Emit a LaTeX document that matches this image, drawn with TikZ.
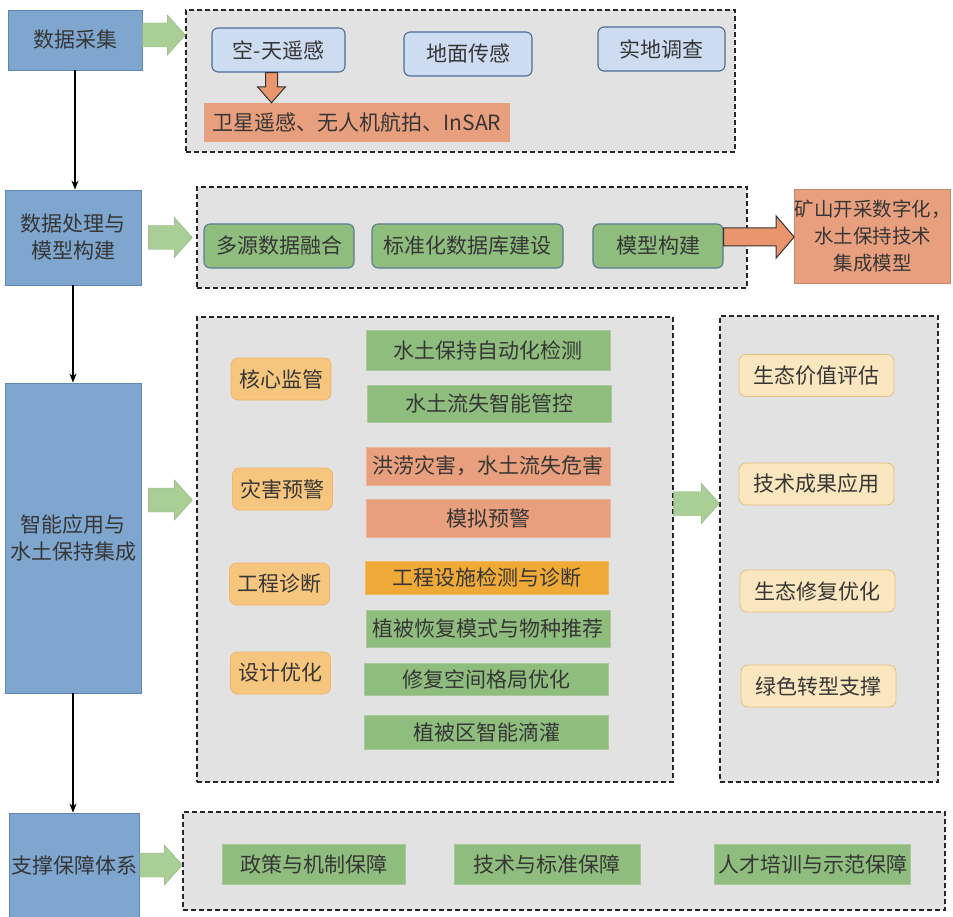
\documentclass[tikz,border=0pt]{standalone}
\usepackage{fontspec}
\setmainfont{Noto Sans CJK SC}
\usetikzlibrary{calc,arrows.meta}

\definecolor{txt}{HTML}{363636}
\definecolor{stageblue}{HTML}{7EA6CF}
\definecolor{stageline}{HTML}{5F87B4}
\definecolor{framegray}{HTML}{E2E2E2}
\definecolor{skyfill}{HTML}{CDDCF0}
\definecolor{skyline}{HTML}{4D6B93}
\definecolor{leaf}{HTML}{8FBD7E}
\definecolor{leafline}{HTML}{A9C99B}
\definecolor{salmon}{HTML}{E89F7D}
\definecolor{amber}{HTML}{EFA936}
\definecolor{tagfill}{HTML}{F7C67E}
\definecolor{tagline}{HTML}{EDB46A}
\definecolor{cream}{HTML}{FBE7BF}
\definecolor{creamline}{HTML}{E6C07E}
\definecolor{arrowgreen}{HTML}{A9CF97}
\definecolor{arroworange}{HTML}{E9956D}

\newcommand{\blockarrowh}[5]{%
  \filldraw[#1] let \p1=(#2), \p2=(#3) in
    (\x1,\y1+#4) -- (\x2-18pt,\y1+#4) -- (\x2-18pt,\y1+#5) -- (\x2,\y1)
    -- (\x2-18pt,\y1-#5) -- (\x2-18pt,\y1-#4) -- (\x1,\y1-#4) -- cycle;}
\newcommand{\blockarrowv}[5]{%
  \filldraw[#1] let \p1=(#2), \p2=(#3) in
    (\x1-#4,\y1) -- (\x1-#4,\y2+16pt) -- (\x1-#5,\y2+16pt) -- (\x1,\y2)
    -- (\x1+#5,\y2+16pt) -- (\x1+#4,\y2+16pt) -- (\x1+#4,\y1) -- cycle;}

\tikzset{
  stage/.style={draw=stageline, fill=stageblue, line width=0.8pt, align=center, inner sep=2pt},
  frame/.style={draw=black!85, fill=framegray, dash pattern=on 5pt off 3pt, line width=1.2pt},
  skybox/.style={draw=skyline, fill=skyfill, rounded corners=6pt, line width=1.1pt,
    minimum height=44pt},
  leafround/.style={draw=skyline!80!leaf, fill=leaf, rounded corners=6pt, line width=1.1pt,
    minimum height=44pt},
  leafbox/.style={draw=leafline, fill=leaf, line width=0.8pt, minimum width=244pt},
  warnbox/.style={draw=salmon!80!white, fill=salmon, line width=0.8pt, minimum width=244pt},
  tag/.style={draw=tagline, fill=tagfill, rounded corners=7pt, line width=0.8pt,
    minimum width=100pt, minimum height=42pt},
  valuebox/.style={draw=creamline, fill=cream, rounded corners=7pt, line width=0.8pt,
    minimum width=155pt, minimum height=42pt},
  greenarrow/.style={fill=arrowgreen, draw=arrowgreen!85!black, line width=0.4pt},
  orangearrow/.style={fill=arroworange, draw=black!80, line width=1pt},
  flow/.style={-{Stealth[length=9pt,width=7pt]}, line width=1.4pt, black}
}

\begin{document}
\begin{tikzpicture}[x=1pt,y=-1pt,font=\fontsize{21}{27}\selectfont,
  every node/.style={text=txt}]
  \useasboundingbox (0,0) rectangle (953,917);

  \node[frame, minimum width=549pt, minimum height=142pt] (c1) at (460.5,81) {};
  \node[frame, minimum width=550pt, minimum height=101pt] (c2) at (472,237.5) {};
  \node[frame, minimum width=476pt, minimum height=465pt] (c3) at (435,549.5) {};
  \node[frame, minimum width=218pt, minimum height=466pt] (c4) at (829,549) {};
  \node[frame, minimum width=762pt, minimum height=98pt] (c5) at (564,861) {};

  \node[stage, minimum width=134pt, minimum height=60pt] (collect) at (75,40) {数据采集};
  \node[stage, minimum width=136pt, minimum height=95pt] (process) at (73,237.5)
    {数据处理与\\模型构建};
  \node[stage, minimum width=136pt, minimum height=310pt] (apply) at (73,538)
    {智能应用与\\水土保持集成};
  \node[stage, minimum width=125pt, minimum height=104pt] (support) at (74.5,865)
    {支撑保障体系};

  \node[skybox, minimum width=133pt] (sky) at (278.5,50) {空-天遥感};
  \node[skybox, minimum width=128pt] (ground) at (468,54) {地面传感};
  \node[skybox, minimum width=127pt] (field) at (661.5,49) {实地调查};
  \node[fill=salmon, minimum width=306pt, minimum height=39pt] (sat) at (357,122.5)
    {卫星遥感、无人机航拍、InSAR};

  \node[leafround, minimum width=150pt] (fusion) at (279,246) {多源数据融合};
  \node[leafround, minimum width=191pt] (database) at (467.5,246) {标准化数据库建设};
  \node[leafround, minimum width=130pt] (modelb) at (658,246) {模型构建};
  \node[fill=salmon, draw=salmon!85!black, line width=0.6pt, minimum width=151pt,
    minimum height=94pt, align=center, inner sep=0pt,
    font=\fontsize{19.5}{27}\selectfont] (mine) at (872.5,236)
    {矿山开采数字化，\\水土保持技术\\集成模型};

  \node[tag] (core) at (281,379) {核心监管};
  \node[tag] (disaster) at (282.5,489) {灾害预警};
  \node[tag] (eng) at (279.5,584) {工程诊断};
  \node[tag] (design) at (280.5,673) {设计优化};

  \node[leafbox, minimum height=40pt] (r1) at (488,350) {水土保持自动化检测};
  \node[leafbox, minimum height=37pt] (r2) at (489,403.5) {水土流失智能管控};
  \node[warnbox, minimum height=38pt] (r3) at (488,466) {洪涝灾害，水土流失危害};
  \node[warnbox, minimum height=38pt] (r4) at (488,518) {模拟预警};
  \node[fill=amber, draw=amber!80!white, line width=0.8pt, minimum width=243pt,
    minimum height=33pt] (r5) at (486.5,577.5) {工程设施检测与诊断};
  \node[leafbox, minimum height=37pt] (r6) at (488,628.5) {植被恢复模式与物种推荐};
  \node[leafbox, minimum height=32pt] (r7) at (486.5,679) {修复空间格局优化};
  \node[leafbox, minimum height=34pt] (r8) at (486.5,732) {植被区智能滴灌};

  \node[valuebox] (v1) at (816.5,375.5) {生态价值评估};
  \node[valuebox] (v2) at (816.5,484) {技术成果应用};
  \node[valuebox] (v3) at (817.5,591) {生态修复优化};
  \node[valuebox] (v4) at (818.5,686) {绿色转型支撑};

  \node[leafbox, minimum width=183pt, minimum height=40pt] (b1) at (313.5,864) {政策与机制保障};
  \node[leafbox, minimum width=186pt, minimum height=40pt] (b2) at (547,864) {技术与标准保障};
  \node[leafbox, minimum width=195pt, minimum height=40pt] (b3) at (812.5,864) {人才培训与示范保障};

  \draw[flow] (collect.south) -- (collect.south |- process.north);
  \draw[flow] (process.south) -- (process.south |- apply.north);
  \draw[flow] (apply.south) -- (apply.south |- support.north);

  \blockarrowh{greenarrow}{$(collect.east)+(0,-5)$}{c1.west}{12pt}{20pt}
  \blockarrowh{greenarrow}{$(process.east)+(7,0)$}{$(c2.west)+(-4,0)$}{12pt}{20pt}
  \blockarrowh{greenarrow}{$(apply.east)+(7,-38)$}{$(c3.west)+(-4,0)$}{12pt}{20pt}
  \blockarrowh{greenarrow}{$(c3.east)+(0,-46)$}{c4.west}{12pt}{20pt}
  \blockarrowh{greenarrow}{support.east}{c5.west}{12pt}{20pt}
  \blockarrowh{orangearrow}{$(modelb.east)+(0,-9)$}{mine.west}{9pt}{21pt}
  \blockarrowv{orangearrow}{$(sky.south)+(-7,0)$}{sat.north}{6pt}{14pt}
\end{tikzpicture}
\end{document}
